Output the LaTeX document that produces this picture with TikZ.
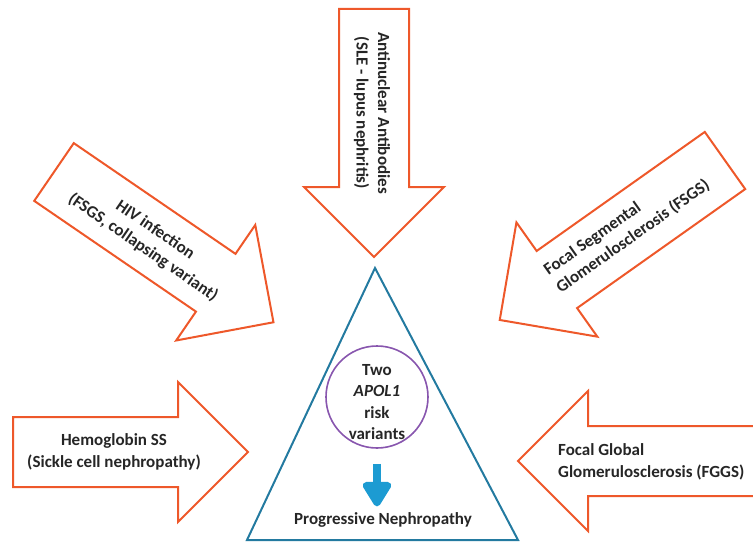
\documentclass[tikz,border=0pt]{standalone}
\usepackage{fontspec}
\setmainfont{Carlito}
\usetikzlibrary{arrows.meta}
\definecolor{causeorange}{RGB}{238,88,42}
\definecolor{tealblue}{RGB}{35,122,160}
\definecolor{apolpurple}{RGB}{136,86,174}
\definecolor{arrowblue}{RGB}{28,155,210}
\tikzset{
  cause_line/.style = {draw=causeorange, line width=2pt, line join=miter, fill=white},
  cause_txt/.style = {align=center, inner sep=0pt, text=black!85, font=\fontsize{17}{21.5}\selectfont\bfseries},
  tri_line/.style = {draw=tealblue, line width=2pt},
  apol_n/.style = {circle, draw=apolpurple, line width=1.6pt, minimum size=102pt, inner sep=0pt},
  apol_arr/.style = {draw=arrowblue, line width=8pt, -{Triangle[width=32pt,length=28pt,round]}},
  pics/cause_arr/.style = {code={
    \draw[cause_line] (0,-35) -- (#1,-35) -- (#1,-70) -- ++(70,70) -- (#1,70) -- (#1,35) -- (0,35) -- cycle;
  }}
}
\begin{document}
\begin{tikzpicture}[x=1pt, y=-1pt]
	\useasboundingbox (0,0) rectangle (753,543);
	% block arrows pointing at the triangle
	\pic[rotate=-90] at (374,9) {cause_arr=178};
	\pic[rotate=-34.4] at (54,172) {cause_arr=196};
	\pic[rotate=-144.7] at (725,160.5) {cause_arr=206};
	\pic at (13,452) {cause_arr=165};
	\pic[rotate=180] at (755,461) {cause_arr=167};
	\node [cause_txt, rotate=-90] (ana) at (372,113) {Antinuclear Antibodies\\(SLE - lupus nephritis)};
	\node [cause_txt, rotate=-34.4] (hiv) at (149,239) {HIV infection\\(FSGS, collapsing variant)};
	\node [cause_txt, rotate=35.3, anchor=west, align=left] (fsgs) at (552,281) {Focal Segmental\\Glomerulosclerosis (FSGS)};
	\node [cause_txt] (hgb) at (114,452) {Hemoglobin SS\\(Sickle cell nephropathy)};
	\node [cause_txt, anchor=west, align=left] (fggs) at (558,462) {Focal Global\\Glomerulosclerosis (FGGS)};
	% triangle
	\draw[tri_line] (375,268) -- (518,540) -- (247,540) -- cycle;
	\node [apol_n] (apol) at (377,397) {};
	\node [cause_txt] (apol_txt) at (377,402) {Two\\\textit{APOL1}\\risk\\variants};
	\node [cause_txt] (prog) at (383,520) {Progressive Nephropathy};
	\draw[apol_arr, shorten <=15pt, shorten >=6pt] (apol.south) -- (apol.south |- prog.north);
\end{tikzpicture}
\end{document}
